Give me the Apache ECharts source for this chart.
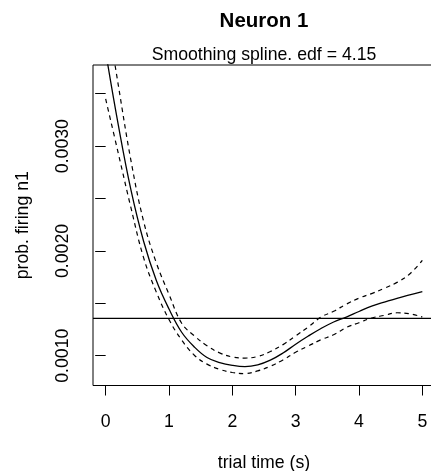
<!DOCTYPE html>
<html>
<head>
<meta charset="utf-8">
<script src="https://cdn.jsdelivr.net/npm/echarts@6/dist/echarts.min.js"></script>
<style>
  html, body { margin: 0; padding: 0; background: #fff; }
  #chart { width: 431px; height: 471px; }
</style>
</head>
<body>
<div id="chart"></div>
<script>
// ---- data ----
const times = [0,0.2,0.4,0.6,0.8,1.0,1.2,1.4,1.6,1.8,2.0,2.2,2.4,2.6,2.8,3.0,3.2,3.4,3.6,3.8,4.0,4.2,4.4,4.6,4.8,5.0];
const fitProb = [0.00390,0.00320,0.00258,0.00209,0.001718,0.001446,0.001224,0.001084,0.000983,0.000935,0.000908,0.000896,0.000913,0.000958,0.001026,0.00111,0.001188,0.00126,0.001322,0.001369,0.001422,0.001473,0.001511,0.001548,0.00158,0.001612];
const upperProb = [0.00433,0.00358,0.00286,0.00228,0.001886,0.001586,0.00131,0.00119,0.001095,0.001027,0.000988,0.000978,0.000993,0.00104,0.001106,0.00119,0.001275,0.001369,0.001424,0.001492,0.00155,0.001593,0.001644,0.00170,0.00178,0.00191];
const lowerProb = [0.00345,0.00293,0.00241,0.001933,0.001607,0.001345,0.00115,0.001005,0.00092,0.00087,0.00084,0.00083,0.000855,0.0009,0.00096,0.001033,0.001093,0.001153,0.0012,0.00127,0.001315,0.00136,0.001385,0.00141,0.0014,0.00137];
const meanProb = 0.001357;
const xRange = [-0.2, 5.2];
const yRange = [0.000716, 0.003774];
const xTicks = [0,1,2,3,4,5];
const yTicks = [0.0010,0.0015,0.0020,0.0025,0.0030,0.0035];
const yLabels = [0.0010,0.0020,0.0030];

const FONT = "'Liberation Sans', Arial, Helvetica, sans-serif";
const pairs = arr => times.map((t, i) => [t, arr[i]]);

const chart = echarts.init(document.getElementById('chart'), null, {renderer: 'canvas'});
chart.setOption({
  animation: false,
  backgroundColor: '#fff',
  title: [
    {text: 'Neuron 1', left: 264, top: 11, textAlign: 'center', padding: 0,
     textStyle: {fontFamily: FONT, fontSize: 20.5, fontWeight: 'bold', color: '#000'}},
    {text: 'Smoothing spline. edf = 4.15', left: 264, top: 46.5, textAlign: 'center', padding: 0,
     textStyle: {fontFamily: FONT, fontSize: 17.7, fontWeight: 'normal', color: '#000'}}
  ],
  grid: {left: 93, top: 65, width: 342, height: 320.5, show: true, outerBoundsMode: 'none',
         borderColor: '#000', borderWidth: 1, backgroundColor: 'transparent', containLabel: false},
  xAxis: {
    type: 'value', min: xRange[0], max: xRange[1],
    name: 'trial time (s)', nameLocation: 'middle', nameGap: 69,
    nameTextStyle: {fontFamily: FONT, fontSize: 17.7, color: '#000'},
    axisLine: {show: false},
    axisTick: {show: true, length: 10, customValues: xTicks, lineStyle: {color: '#000', width: 1}},
    axisLabel: {customValues: xTicks, margin: 28, fontFamily: FONT, fontSize: 17.7, color: '#000'},
    splitLine: {show: false}
  },
  yAxis: {
    type: 'value', min: yRange[0], max: yRange[1],
    name: 'prob. firing n1', nameLocation: 'middle', nameGap: 61, nameRotate: 90,
    nameTextStyle: {fontFamily: FONT, fontSize: 17.7, color: '#000'},
    axisLine: {show: false},
    axisTick: {show: true, length: 10.5, customValues: yTicks, lineStyle: {color: '#000', width: 1}},
    axisLabel: {customValues: yLabels, rotate: 90, margin: 21, fontFamily: FONT, fontSize: 17.7, color: '#000',
                formatter: v => v.toFixed(4)},
    splitLine: {show: false}
  },
  series: [
    {type: 'line', name: 'mean', data: xRange.map(x => [x, meanProb]), showSymbol: false, clip: true,
     lineStyle: {color: '#000', width: 1.3, type: 'solid'}},
    {type: 'line', name: 'fit', data: pairs(fitProb), showSymbol: false, smooth: 0.4, clip: true,
     lineStyle: {color: '#000', width: 1.3, type: 'solid'}},
    {type: 'line', name: 'upper', data: pairs(upperProb), showSymbol: false, smooth: 0.4, clip: true,
     lineStyle: {color: '#000', width: 1.2, type: [4.5, 4]}},
    {type: 'line', name: 'lower', data: pairs(lowerProb), showSymbol: false, smooth: 0.4, clip: true,
     lineStyle: {color: '#000', width: 1.2, type: [4.5, 4]}}
  ]
});
</script>
</body>
</html>
